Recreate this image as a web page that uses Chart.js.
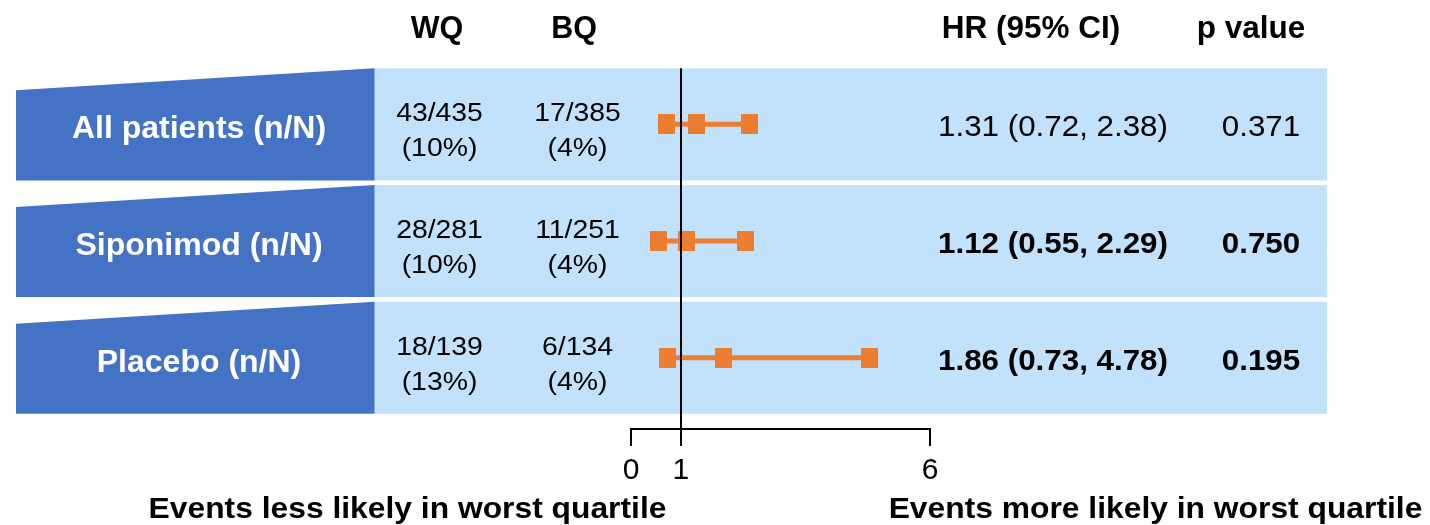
<!DOCTYPE html>
<html>
<head>
<meta charset="utf-8">
<script src="https://cdn.jsdelivr.net/npm/chart.js@4.4.1/dist/chart.umd.min.js"></script>
<style>
  html, body { margin: 0; padding: 0; background: #ffffff; }
  #wrap { width: 1430px; height: 525px; }
</style>
</head>
<body>
<div id="wrap"><canvas id="c" width="1430" height="525"></canvas></div>
<script>
// ---------- data ----------
const categories = ['All patients (n/N)', 'Siponimod (n/N)', 'Placebo (n/N)'];
const wqCounts = ['43/435', '28/281', '18/139'];
const wqPercents = ['(10%)', '(10%)', '(13%)'];
const bqCounts = ['17/385', '11/251', '6/134'];
const bqPercents = ['(4%)', '(4%)', '(4%)'];
const hazardRatios = [1.31, 1.12, 1.86];
const ciLower = [0.72, 0.55, 0.73];
const ciUpper = [2.38, 2.29, 4.78];
const pValues = ['0.371', '0.750', '0.195'];
const boldRows = [false, true, true];
const xTickValues = [0, 1, 6];
const columnHeaders = ['WQ', 'BQ', 'HR (95% CI)', 'p value'];
const axisCaptions = ['Events less likely in worst quartile', 'Events more likely in worst quartile'];

// ---------- styles ----------
const ORANGE = '#ED7D31';
const DARK_BLUE = '#4472C4';
const LIGHT_BLUE = '#C2E2FB';
const FONT = '"Liberation Sans", Arial, Helvetica, sans-serif';

// square-ish marker
const marker = document.createElement('canvas');
marker.width = 17; marker.height = 20;
(function () { const m = marker.getContext('2d'); m.fillStyle = ORANGE; m.fillRect(0, 0, 17, 20); })();

const datasets = categories.map((cat, i) => ({
  label: cat,
  data: [
    { x: ciLower[i], y: i + 1 },
    { x: hazardRatios[i], y: i + 1 },
    { x: ciUpper[i], y: i + 1 }
  ],
  showLine: true,
  borderColor: ORANGE,
  backgroundColor: ORANGE,
  borderWidth: 5,
  pointStyle: marker,
  pointRadius: 10,
  pointBorderWidth: 0,
  clip: false
}));

function drawText(ctx, s, x, y, size, bold, color, sx) {
  ctx.save();
  ctx.font = (bold ? 'bold ' : '') + size + 'px ' + FONT;
  ctx.fillStyle = color;
  ctx.textAlign = 'center';
  ctx.textBaseline = 'alphabetic';
  ctx.translate(x, y);
  ctx.scale(sx || 1, 1);
  ctx.fillText(s, 0, 0);
  ctx.restore();
}

const BAND_HALF = 0.48;

const decor = {
  id: 'decor',
  beforeDraw(chart) {
    const ctx = chart.ctx;
    const ys = chart.scales.y;
    ctx.save();
    categories.forEach((cat, i) => {
      const top = ys.getPixelForValue(i + 1 - BAND_HALF);
      const bot = ys.getPixelForValue(i + 1 + BAND_HALF);
      ctx.fillStyle = LIGHT_BLUE;
      ctx.fillRect(374, top, 1327 - 374, bot - top);
      ctx.fillStyle = DARK_BLUE;
      ctx.beginPath();
      ctx.moveTo(16, top + 22);
      ctx.lineTo(374.5, top);
      ctx.lineTo(374.5, bot);
      ctx.lineTo(16, bot);
      ctx.closePath();
      ctx.fill();
    });
    ctx.restore();
  },
  afterDatasetsDraw(chart) {
    const ctx = chart.ctx;
    const xs = chart.scales.x;
    const ys = chart.scales.y;
    const x1 = Math.round(xs.getPixelForValue(1));
    const top = ys.getPixelForValue(1 - BAND_HALF);
    ctx.save();
    ctx.strokeStyle = '#000';
    ctx.lineWidth = 2;
    ctx.beginPath();
    ctx.moveTo(x1, top);
    ctx.lineTo(x1, chart.chartArea.bottom + 17);
    ctx.stroke();
    ctx.restore();
  },
  afterDraw(chart) {
    const ctx = chart.ctx;
    const ys = chart.scales.y;
    // column headers
    drawText(ctx, columnHeaders[0], 437, 38, 30.5, true, '#000', 1);
    drawText(ctx, columnHeaders[1], 574, 38, 30.5, true, '#000', 1);
    drawText(ctx, columnHeaders[2], 1031, 38, 31.5, true, '#000', 1);
    drawText(ctx, columnHeaders[3], 1251, 38, 31.5, true, '#000', 1);
    categories.forEach((cat, i) => {
      const c = ys.getPixelForValue(i + 1);
      drawText(ctx, cat, 199, c + 14, 32, true, '#fff', 1);
      drawText(ctx, wqCounts[i], 439.5, c - 3, 26.5, false, '#000', 1.07);
      drawText(ctx, wqPercents[i], 439.5, c + 32, 26.5, false, '#000', 1.07);
      drawText(ctx, bqCounts[i], 577.5, c - 3, 26.5, false, '#000', 1.07);
      drawText(ctx, bqPercents[i], 577.5, c + 32, 26.5, false, '#000', 1.07);
      const hrText = hazardRatios[i].toFixed(2) + ' (' + ciLower[i].toFixed(2) + ', ' + ciUpper[i].toFixed(2) + ')';
      drawText(ctx, hrText, 1053, c + 12, 29, boldRows[i], '#000', 1.08);
      drawText(ctx, pValues[i], 1261, c + 12, 29, boldRows[i], '#000', 1.08);
    });
    drawText(ctx, axisCaptions[0], 407.5, 518, 30, true, '#000', 1.06);
    drawText(ctx, axisCaptions[1], 1155.5, 518, 30, true, '#000', 1.06);
  }
};

new Chart(document.getElementById('c'), {
  type: 'scatter',
  data: { datasets },
  options: {
    responsive: false,
    animation: false,
    devicePixelRatio: 1,
    layout: { padding: { left: 631, right: 500, top: 66, bottom: 0 } },
    plugins: { legend: { display: false }, tooltip: { enabled: false } },
    scales: {
      x: {
        type: 'linear',
        min: 0,
        max: 6,
        position: 'bottom',
        afterBuildTicks: (axis) => { axis.ticks = xTickValues.map(v => ({ value: v })); },
        afterFit: (axis) => { axis.height = 96; },
        border: { display: true, color: '#000', width: 2 },
        grid: { display: true, drawOnChartArea: false, drawTicks: true, tickLength: 17, color: '#000', lineWidth: 2 },
        ticks: {
          autoSkip: false,
          maxRotation: 0,
          padding: 7,
          color: '#000',
          font: { family: FONT, size: 30 },
          callback: (v) => String(v)
        }
      },
      y: {
        type: 'linear',
        display: false,
        reverse: true,
        min: 0.5,
        max: 3.61
      }
    }
  },
  plugins: [decor]
});
</script>
</body>
</html>
